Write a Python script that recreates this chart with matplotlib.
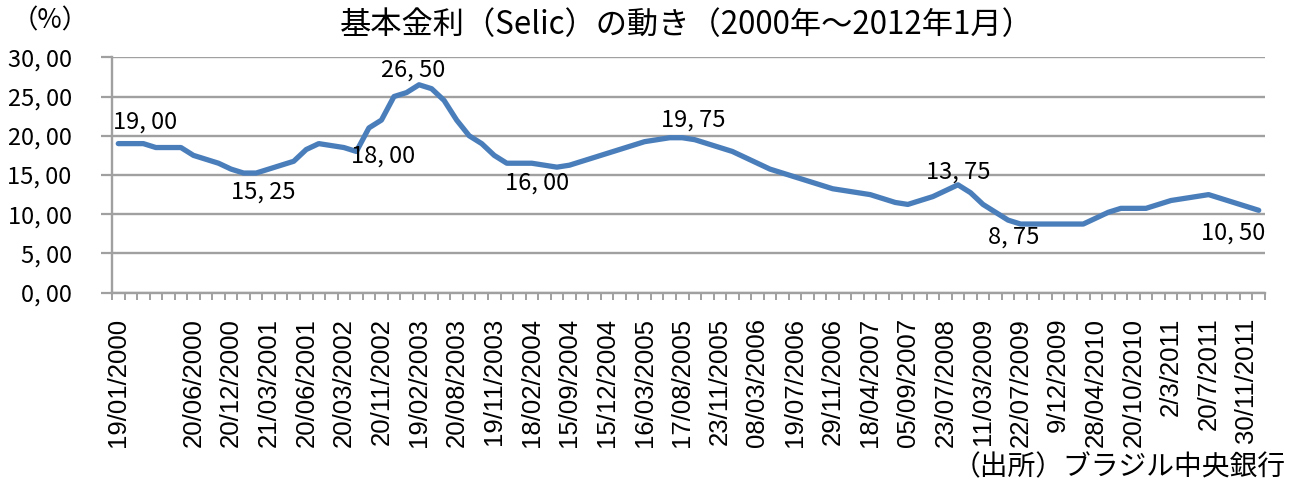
import matplotlib
matplotlib.use("Agg")
import matplotlib.pyplot as plt
import numpy as np

# ---- data ----
values = [
    19.00, 19.00, 19.00, 18.50, 18.50, 18.50, 17.50, 17.00, 16.50, 15.75,
    15.25, 15.25, 15.75, 16.25, 16.75, 18.25, 19.00, 18.75, 18.50, 18.00,
    21.00, 22.00, 25.00, 25.50, 26.50, 26.00, 24.50, 22.00, 20.00, 19.00,
    17.50, 16.50, 16.50, 16.50, 16.25, 16.00, 16.25, 16.75, 17.25, 17.75,
    18.25, 18.75, 19.25, 19.50, 19.75, 19.75, 19.50, 19.00, 18.50, 18.00,
    17.25, 16.50, 15.75, 15.25, 14.75, 14.25, 13.75, 13.25, 13.00, 12.75,
    12.50, 12.00, 11.50, 11.25, 11.75, 12.25, 13.00, 13.75, 12.75, 11.25,
    10.25, 9.25, 8.75, 8.75, 8.75, 8.75, 8.75, 8.75, 9.50, 10.25,
    10.75, 10.75, 10.75, 11.25, 11.75, 12.00, 12.25, 12.50, 12.00, 11.50,
    11.00, 10.50,
]
tick_positions = [0] + list(range(6, 91, 3))
tick_labels = [
    "19/01/2000", "20/06/2000", "20/12/2000", "21/03/2001", "20/06/2001",
    "20/03/2002", "20/11/2002", "19/02/2003", "20/08/2003", "19/11/2003",
    "18/02/2004", "15/09/2004", "15/12/2004", "16/03/2005", "17/08/2005",
    "23/11/2005", "08/03/2006", "19/07/2006", "29/11/2006", "18/04/2007",
    "05/09/2007", "23/07/2008", "11/03/2009", "22/07/2009", "9/12/2009",
    "28/04/2010", "20/10/2010", "2/3/2011", "20/7/2011", "30/11/2011",
]
y_ticks = [0, 5, 10, 15, 20, 25, 30]
# annotated points: index -> (dx, dy) pixel offset of label centre
annotated = [0, 10, 19, 24, 35, 44, 67, 72, 91]
ann_offsets = [(27, 22), (20, -19), (27, -5), (-6, 15), (-20, -16),
               (24, 18), (0, 13), (-7, -13), (-26, -23)]

title = "基本金利（Selic）の動き（2000年～2012年1月）"
unit = "（%）"
source = "（出所）ブラジル中央銀行"

JP = ["Noto Sans CJK JP", "DejaVu Sans"]
GRAY = "#a0a0a0"
BLUE = "#4a7ebb"


def fmt(v):
    return f"{v:.2f}".replace(".", ", ")


W, H = 1290, 484
fig = plt.figure(figsize=(W / 100, H / 100), dpi=100)
x0, x1, ytop, ybot = 112, 1265, 57.3, 292.7
ax = fig.add_axes([x0 / W, 1 - ybot / H, (x1 - x0) / W, (ybot - ytop) / H])

x = np.arange(len(values))
ax.plot(x, values, color=BLUE, lw=3.8, solid_joinstyle="round",
        solid_capstyle="round", zorder=3)
ax.set_xlim(-0.5, len(values) - 0.5)
ax.set_ylim(0, 30)

# y axis
ax.set_yticks(y_ticks)
ax.set_yticklabels([fmt(v) for v in y_ticks], family=JP, fontsize=17)
ax.yaxis.grid(True, color=GRAY, lw=1.7)
ax.set_axisbelow(True)
ax.tick_params(axis="y", direction="out", length=8, width=1.6, color=GRAY,
               pad=21)

# x axis: boundary ticks (major) and labels (minor)
ax.set_xticks(np.arange(-0.5, len(values), 1.0))
ax.set_xticklabels([])
ax.tick_params(axis="x", which="major", direction="out", length=5, width=1.4,
               color=GRAY)
ax.set_xticks(tick_positions, minor=True)
ax.set_xticklabels(tick_labels, minor=True, rotation=90,
                   family="Liberation Sans", fontsize=18.5)
ax.tick_params(axis="x", which="minor", length=0, pad=18)

for s in ["top", "right"]:
    ax.spines[s].set_visible(False)
for s in ["left", "bottom"]:
    ax.spines[s].set_color(GRAY)
    ax.spines[s].set_linewidth(1.7)

for i, (dx, dy) in zip(annotated, ann_offsets):
    ax.annotate(fmt(values[i]), xy=(i, values[i]), xytext=(dx, dy),
                textcoords="offset pixels", ha="center", va="center",
                family=JP, fontsize=17, zorder=4)

fig.text(687 / W, 1 - 25 / H, title, ha="center", va="center",
         family=JP, fontsize=22.5)
fig.text(50 / W, 1 - 21 / H, unit, ha="center", va="center",
         family=JP, fontsize=19)
fig.text(1286 / W, 1 - 467 / H, source, ha="right", va="center",
         family=JP, fontsize=20)

fig.savefig("out.png", dpi=100)
